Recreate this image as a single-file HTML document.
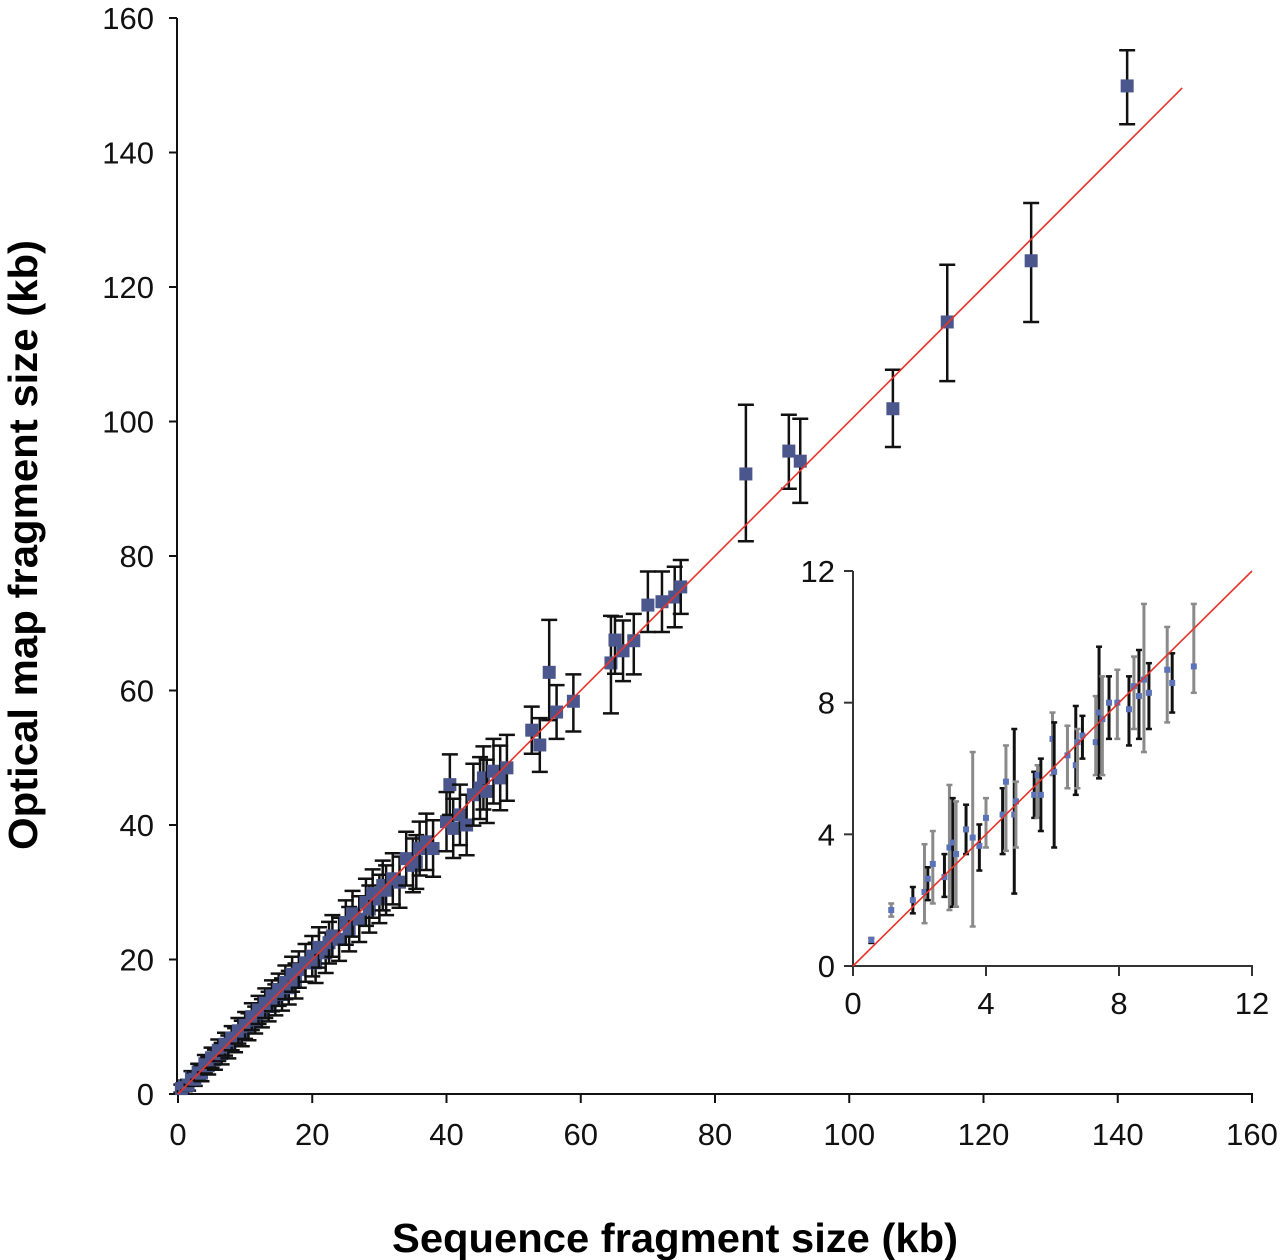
<!DOCTYPE html>
<html><head><meta charset="utf-8"><style>
html,body{margin:0;padding:0;background:#fff;}
svg{display:block;font-family:"Liberation Sans",sans-serif;}
</style></head><body>
<svg id="chart" width="1280" height="1260" viewBox="0 0 1280 1260" xmlns="http://www.w3.org/2000/svg">
<g id="main"></g>
<g id="inset"></g>
<text x="675" y="1252" text-anchor="middle" font-size="41" font-weight="bold" textLength="566" lengthAdjust="spacingAndGlyphs">Sequence fragment size (kb)</text>
<text transform="translate(37,545) rotate(-90)" text-anchor="middle" font-size="41" font-weight="bold" textLength="610" lengthAdjust="spacingAndGlyphs">Optical map fragment size (kb)</text>
</svg>
<script>
// ---- main chart data ----
const mainTicks = [0,20,40,60,80,100,120,140,160];
const mainX = [0.5,1,1.5,2,2.5,3,3.5,4,4.5,5,5.5,6,6.5,7,7.5,8,8.5,9,9.5,10,10.5,11,11.5,12,12.5,13,13.5,14,14.5,15,15.5,16,16.5,17,17.5,18,19,20,20.5,21,22,22.5,23,24,25,25.5,26,27,28,28.5,29,30,30.5,31,32,33,34,35,35.5,36,37,38,40,40.5,41,42,43,44,45,45.5,46,47,48,49,52.7,53.9,55.3,56.4,58.9,64.5,65.1,66.3,67.9,70,72.1,74,74.9,84.6,91.0,92.7,106.5,114.6,127.1,141.4];
const mainY = [0.8,1.2,1.3,2.4,2.2,3.3,3.1,4.5,4.2,5.4,5.1,6.5,6.0,7.4,7.0,8.3,8.0,9.4,9.0,10.2,10.0,11.5,11.0,12.5,12.0,13.5,13.0,14.6,14.0,15.5,14.8,16.6,15.8,17.8,16.8,18.5,19.5,20.5,19.5,21.8,21.0,22.5,23.5,23.0,25.5,24.5,26.8,26.0,28.5,27.5,29.8,29.0,31.0,30.3,32.0,31.5,35.0,34.0,34.5,36.5,37.5,36.5,40.5,46.0,39.5,41.5,40.0,44.5,45.5,47.0,45.0,48.0,47.0,48.5,54.1,51.9,62.7,56.8,58.4,64.1,67.5,65.9,67.4,72.7,73.2,73.9,75.4,92.2,95.6,94.1,101.9,114.8,123.9,149.9];
const mainErrLo = [0.6,0.8,0.8,1,1,1.2,1.2,1.3,1.3,1.5,1.5,1.6,1.6,1.7,1.7,1.8,1.8,1.9,1.9,2,2,2,2,2.1,2.1,2.2,2.2,2.3,2.3,2.4,2.4,2.5,2.5,2.6,2.6,2.7,2.8,3,3,3,3,3.1,3.1,3.2,3.3,3.3,3.4,3.4,3.5,3.5,3.6,3.6,3.7,3.7,3.8,3.8,4,4,4,4,4.2,4.2,4.4,4.5,4.4,4.5,4.5,4.6,4.6,4.7,4.7,4.8,4.8,4.9,3.5,4,7.1,4,4.5,7.5,5,4.5,5,4,4.5,4.5,4,10,5.6,6.2,5.7,8.8,9.1,5.7];
const mainErrHi = [0.6,0.8,0.8,1,1,1.2,1.2,1.3,1.3,1.5,1.5,1.6,1.6,1.7,1.7,1.8,1.8,1.9,1.9,2,2,2,2,2.1,2.1,2.2,2.2,2.3,2.3,2.4,2.4,2.5,2.5,2.6,2.6,2.7,2.8,3,3,3,3,3.1,3.1,3.2,3.3,3.3,3.4,3.4,3.5,3.5,3.6,3.6,3.7,3.7,3.8,3.8,4,4,4,4,4.2,4.2,4.4,4.5,4.4,4.5,4.5,4.6,4.6,4.7,4.7,4.8,4.8,4.9,3.5,4,7.8,4,4,7,3.5,4.5,4,5,4.5,4.5,4,10.3,5.4,6.3,5.8,8.5,8.6,5.3];
const mainFitEnd = 149.6;

// ---- inset data ----
const insetTicks = [0,4,8,12];
const insetX = [0.55,1.15,1.8,2.15,2.25,2.4,2.75,2.9,3.0,3.1,3.4,3.6,3.8,4.0,4.5,4.6,4.85,4.9,5.45,5.55,5.65,6.0,6.05,6.45,6.7,6.75,6.9,7.3,7.4,7.5,7.7,7.95,8.3,8.45,8.6,8.75,8.9,9.45,9.6,10.25];
const insetY = [0.79,1.7,2.0,2.25,2.65,3.1,2.7,3.6,3.75,3.4,4.15,3.9,3.65,4.5,4.6,5.6,4.6,5.0,5.2,5.8,5.2,6.9,5.9,6.4,6.1,6.8,7.0,6.8,7.7,7.5,8.0,8.0,7.8,8.5,8.2,8.7,8.3,9.0,8.6,9.1];
const insetLo = [0.7,1.5,1.6,1.3,2.0,1.9,2.1,1.7,1.8,1.8,3.4,1.2,2.9,3.6,3.4,3.5,2.2,3.6,4.5,4.5,4.1,5.8,3.6,5.4,5.2,5.4,6.3,5.8,5.7,5.8,6.9,6.9,6.7,7.2,6.9,6.5,7.2,7.4,7.7,8.3];
const insetHi = [0.85,1.9,2.4,3.7,3.0,4.1,3.4,5.5,5.1,5.0,4.9,6.5,4.3,5.1,5.4,6.7,7.2,5.6,5.9,6.1,6.3,7.7,7.4,7.3,7.9,7.2,7.6,8.2,9.7,8.8,8.8,9.0,8.8,9.4,9.6,11.0,9.2,10.3,9.5,11.0];

const NS = "http://www.w3.org/2000/svg";
function mk(parent, tag, attrs){const e=document.createElementNS(NS,tag);for(const k in attrs)e.setAttribute(k,attrs[k]);parent.appendChild(e);return e;}

const mx = v => 178 + v*(1252-178)/160;
const my = v => 1094 - v*(1094-18)/160;
const gm = document.getElementById('main');
let a = mk(gm,'line',{x1:177,y1:18,x2:177,y2:1095,stroke:'#111','stroke-width':2});


a = mk(gm,'line',{x1:177,y1:1094,x2:1253,y2:1094,stroke:'#111','stroke-width':2});


mainTicks.forEach(t=>{
  let l=mk(gm,'line',{x1:169,y1:my(t),x2:177,y2:my(t),stroke:'#111','stroke-width':2});
  
  
  let tx=mk(gm,'text',{x:154,y:my(t)+11,'text-anchor':'end','font-size':31,fill:'#111'});
  tx.textContent=t;
  
  
  l=mk(gm,'line',{x1:mx(t),y1:1094,x2:mx(t),y2:1103,stroke:'#111','stroke-width':2});
  
  
  tx=mk(gm,'text',{x:mx(t),y:1145,'text-anchor':'middle','font-size':31,fill:'#111'});
  tx.textContent=t;
  
  
});
mainX.forEach((x,i)=>{
  const y=mainY[i], cx=mx(x);
  const g=mk(gm,'g',{});
  
  
  const y1=my(y+mainErrHi[i]), y2=my(y-mainErrLo[i]);
  mk(g,'line',{x1:cx,y1:y1,x2:cx,y2:y2,stroke:'#111','stroke-width':2.5});
  mk(g,'line',{x1:cx-8,y1:y1,x2:cx+8,y2:y1,stroke:'#111','stroke-width':2.5});
  mk(g,'line',{x1:cx-8,y1:y2,x2:cx+8,y2:y2,stroke:'#111','stroke-width':2.5});
  mk(g,'rect',{x:cx-6.5,y:my(y)-6.5,width:13,height:13,fill:'#4b568c'});
});
a = mk(gm,'line',{x1:mx(0),y1:my(0),x2:mx(mainFitEnd),y2:my(mainFitEnd),stroke:'#e8322a','stroke-width':1.6});



const ix = v => 853 + v*(1252-853)/12;
const iy = v => 966 - v*(966-571)/12;
const gi = document.getElementById('inset');
a = mk(gi,'line',{x1:853,y1:571,x2:853,y2:967,stroke:'#333','stroke-width':2});


a = mk(gi,'line',{x1:852,y1:966,x2:1253,y2:966,stroke:'#333','stroke-width':2});


insetTicks.forEach(t=>{
  let l=mk(gi,'line',{x1:844,y1:iy(t),x2:853,y2:iy(t),stroke:'#333','stroke-width':2});
  
  
  let tx=mk(gi,'text',{x:835,y:iy(t)+11,'text-anchor':'end','font-size':31,fill:'#111'});
  tx.textContent=t;
  
  
  l=mk(gi,'line',{x1:ix(t),y1:966,x2:ix(t),y2:976,stroke:'#333','stroke-width':2});
  
  
  tx=mk(gi,'text',{x:ix(t),y:1014,'text-anchor':'middle','font-size':31,fill:'#111'});
  tx.textContent=t;
  
  
});
insetX.forEach((x,i)=>{
  const cx=ix(x);
  const g=mk(gi,'g',{});
  
  
  const y1=iy(insetHi[i]), y2=iy(insetLo[i]);
  const col = i%2 ? '#8a8a8a' : '#111';
  mk(g,'line',{x1:cx,y1:y1,x2:cx,y2:y2,stroke:col,'stroke-width':3});
  mk(g,'line',{x1:cx-3,y1:y1,x2:cx+3,y2:y1,stroke:col,'stroke-width':2.5});
  mk(g,'line',{x1:cx-3,y1:y2,x2:cx+3,y2:y2,stroke:col,'stroke-width':2.5});
  mk(g,'rect',{x:cx-3,y:iy(insetY[i])-3,width:6,height:6,fill:'#5b73b8'});
});
a = mk(gi,'line',{x1:ix(0),y1:iy(0),x2:ix(12),y2:iy(12),stroke:'#e8322a','stroke-width':1.6});


</script>
</body></html>
